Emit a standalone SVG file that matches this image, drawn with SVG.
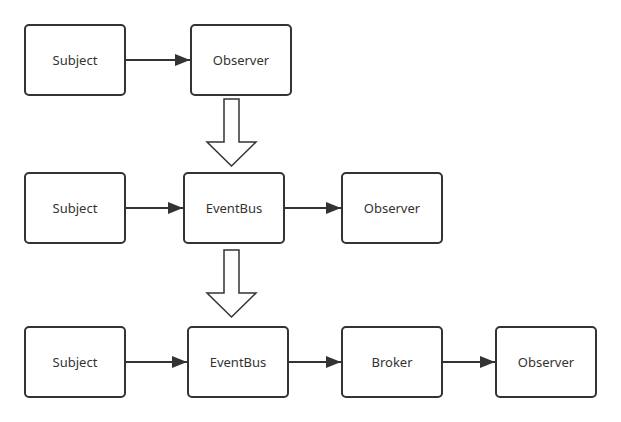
<svg xmlns="http://www.w3.org/2000/svg" width="621" height="422" viewBox="0 0 621 422">
<defs>
<style>
.box{fill:#fff;stroke:#333;stroke-width:2}
.lbl{font-family:"Noto Sans","Open Sans",sans-serif;font-size:13px;fill:#333;text-anchor:middle;dominant-baseline:central}
.ln{stroke:#333;stroke-width:2;fill:none}
.blk{fill:#fff;stroke:#333;stroke-width:1.5;stroke-linejoin:miter}
</style>
<marker id="ah" viewBox="0 0 10 10" refX="10" refY="5" markerWidth="15" markerHeight="12" markerUnits="userSpaceOnUse" orient="auto" preserveAspectRatio="none">
<path d="M0,0 L10,5 L0,10 Z" fill="#333"/>
</marker>
</defs>
<rect width="621" height="422" fill="#fff"/>
<g id="n1"><rect class="box" x="25" y="25" width="100" height="70" rx="4"/><text class="lbl" x="75" y="60">Subject</text></g>
<g id="n2"><rect class="box" x="191" y="25" width="100" height="70" rx="4"/><text class="lbl" x="241" y="60">Observer</text></g>
<g id="n3"><rect class="box" x="25" y="173" width="100" height="70" rx="4"/><text class="lbl" x="75" y="208">Subject</text></g>
<g id="n4"><rect class="box" x="184" y="173" width="100" height="70" rx="4"/><text class="lbl" x="234" y="208">EventBus</text></g>
<g id="n5"><rect class="box" x="342" y="173" width="100" height="70" rx="4"/><text class="lbl" x="392" y="208">Observer</text></g>
<g id="n6"><rect class="box" x="25" y="327" width="100" height="70" rx="4"/><text class="lbl" x="75" y="362">Subject</text></g>
<g id="n7"><rect class="box" x="188" y="327" width="100" height="70" rx="4"/><text class="lbl" x="238" y="362">EventBus</text></g>
<g id="n8"><rect class="box" x="342" y="327" width="100" height="70" rx="4"/><text class="lbl" x="392" y="362">Broker</text></g>
<g id="n9"><rect class="box" x="496" y="327" width="100" height="70" rx="4"/><text class="lbl" x="546" y="362">Observer</text></g>
<g id="connectors">
<line class="ln" x1="125" y1="60" x2="190" y2="60" marker-end="url(#ah)"/>
<line class="ln" x1="125" y1="208" x2="183" y2="208" marker-end="url(#ah)"/>
<line class="ln" x1="284" y1="208" x2="341" y2="208" marker-end="url(#ah)"/>
<line class="ln" x1="125" y1="362" x2="187" y2="362" marker-end="url(#ah)"/>
<line class="ln" x1="288" y1="362" x2="341" y2="362" marker-end="url(#ah)"/>
<line class="ln" x1="442" y1="362" x2="495" y2="362" marker-end="url(#ah)"/>
<path class="blk" d="M224,99 L239,99 L239,142 L256,142 L231.5,166 L207,142 L224,142 Z"/>
<path class="blk" d="M224,250 L239,250 L239,293 L256,293 L231.5,317 L207,293 L224,293 Z"/>
</g>
</svg>
